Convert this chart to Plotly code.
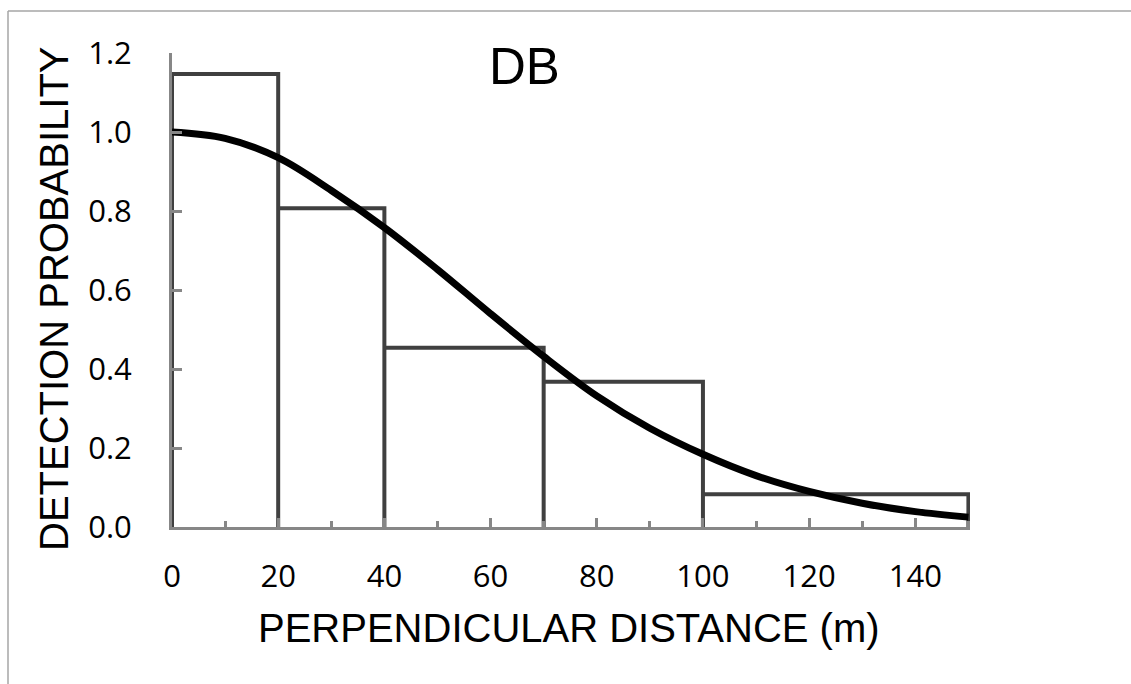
import plotly.graph_objects as go

# ---- data ----
bin_edges = [0, 20, 40, 70, 100, 150]
bin_heights = [1.147, 0.807, 0.454, 0.368, 0.083]

curve_x = [0, 10, 20, 30, 40, 50, 60, 70, 80, 90, 100, 110, 120, 130, 140, 150]
curve_y = [1.0, 0.984, 0.935, 0.852, 0.758, 0.652, 0.54, 0.432, 0.332, 0.25,
           0.184, 0.13, 0.09, 0.06, 0.039, 0.025]

x_ticks = [0, 20, 40, 60, 80, 100, 120, 140]
y_ticks = [0.0, 0.2, 0.4, 0.6, 0.8, 1.0, 1.2]

title_text = "DB"
x_title = "PERPENDICULAR DISTANCE (m)"
y_title = "DETECTION PROBABILITY"

# ---- geometry ----
W, H = 1131, 684
L, R, T, B = 172, 161, 53, 157
PW = W - L - R
PH = H - T - B


def px_x(p):
    return (p - L) / PW


def px_y(p):
    return (H - B - p) / PH


# histogram outline (open bars: left, top, right)
sx, sy = [], []
for i, h in enumerate(bin_heights):
    l, r = bin_edges[i], bin_edges[i + 1]
    sx += [l, l, r, r]
    sy += [0, h, h, 0]

fig = go.Figure()
fig.add_trace(go.Scatter(x=sx, y=sy, mode="lines",
                         line=dict(color="#404040", width=4),
                         hoverinfo="skip"))
fig.add_trace(go.Scatter(x=curve_x, y=curve_y, mode="lines",
                         line=dict(color="black", width=7, shape="spline", smoothing=1.0),
                         hoverinfo="skip"))

axis_grey = "#878787"
tick_font = dict(family="Open Sans", size=31, color="black")

fig.update_layout(
    width=W, height=H,
    margin=dict(l=L, r=R, t=T, b=B),
    plot_bgcolor="white", paper_bgcolor="white",
    showlegend=False,
    xaxis=dict(
        range=[0, 150.3],
        tickmode="array", tickvals=x_ticks, ticktext=[str(v) for v in x_ticks],
        ticks="inside", ticklen=9, tickwidth=3, tickcolor=axis_grey,
        showline=True, linecolor=axis_grey, linewidth=3,
        showgrid=False, zeroline=False,
        tickfont=tick_font, ticklabelstandoff=20,
        minor=dict(dtick=10, tick0=0, ticks="inside", ticklen=6,
                   tickwidth=3, tickcolor=axis_grey, showgrid=False),
    ),
    yaxis=dict(
        range=[0, 1.2],
        tickmode="array", tickvals=y_ticks, ticktext=[f"{v:.1f}" for v in y_ticks],
        ticks="inside", ticklen=10, tickwidth=3, tickcolor=axis_grey,
        showline=True, linecolor=axis_grey, linewidth=3,
        showgrid=False, zeroline=False, layer="above traces",
        tickfont=tick_font, ticklabelstandoff=31,
    ),
    annotations=[
        dict(text=title_text, xref="paper", yref="paper",
             x=px_x(524.5), y=px_y(66), xanchor="center", yanchor="middle",
             showarrow=False, font=dict(family="Liberation Sans", size=51, color="black")),
        dict(text=x_title, xref="paper", yref="paper",
             x=px_x(569), y=px_y(627.5), xanchor="center", yanchor="middle",
             showarrow=False, font=dict(family="Liberation Sans", size=40, color="black")),
        dict(text=y_title, xref="paper", yref="paper", textangle=-90,
             x=px_x(53.5), y=px_y(298.5), xanchor="center", yanchor="middle",
             showarrow=False, font=dict(family="Liberation Sans", size=40, color="black")),
    ],
    shapes=[
        dict(type="line", xref="paper", yref="paper",
             x0=px_x(8), x1=px_x(W + 5), y0=px_y(11), y1=px_y(11),
             line=dict(color="#a6a6a6", width=1.5)),
        dict(type="line", xref="paper", yref="paper",
             x0=px_x(8), x1=px_x(8), y0=px_y(11), y1=px_y(H + 5),
             line=dict(color="#a6a6a6", width=1.5)),
    ],
)

fig.write_html("out.html")
